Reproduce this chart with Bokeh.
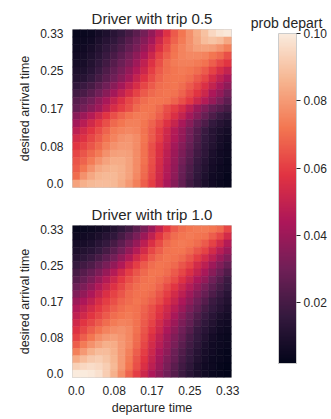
import numpy as np
from bokeh.plotting import figure
from bokeh.models import (LinearColorMapper, ColorBar, FixedTicker, Label,
                          ColumnDataSource, Range1d, PrintfTickFormatter)
from bokeh.layouts import row, column
from bokeh.transform import transform
from bokeh.embed import file_html
from bokeh.resources import INLINE

# ---------------- data ----------------
tick_idx = [0, 5, 10, 15, 20]
tick_labels = ["0.0", "0.08", "0.17", "0.25", "0.33"]
titles = ["Driver with trip 0.5", "Driver with trip 1.0"]
cbar_ticks = [0.02, 0.04, 0.06, 0.08, 0.10]

# prob depart x 1000; rows from desired arrival 0.33 (top) down to 0.0,
# columns departure time 0.0 .. 0.33
trip_05 = [
    [3, 4, 5, 7, 10, 13, 16, 20, 25, 31, 38, 47, 57, 66, 72, 78, 84, 89, 95, 98, 99],
    [4, 5, 6, 9, 12, 15, 19, 24, 29, 35, 42, 52, 61, 68, 73, 78, 83, 88, 90, 88, 83],
    [5, 6, 8, 11, 15, 18, 22, 27, 32, 39, 47, 56, 64, 71, 75, 78, 81, 82, 81, 78, 74],
    [6, 7, 10, 13, 17, 21, 26, 31, 37, 44, 52, 61, 67, 72, 75, 76, 76, 75, 72, 69, 64],
    [7, 8, 11, 15, 19, 24, 29, 34, 41, 49, 57, 64, 70, 73, 74, 74, 73, 71, 67, 62, 58],
    [9, 10, 13, 17, 22, 27, 32, 38, 45, 52, 60, 66, 70, 72, 73, 72, 70, 66, 61, 55, 50],
    [11, 12, 16, 20, 25, 30, 36, 42, 50, 57, 63, 68, 71, 72, 72, 70, 66, 62, 55, 49, 43],
    [15, 17, 20, 25, 30, 36, 42, 49, 55, 62, 66, 70, 71, 72, 70, 66, 62, 56, 50, 43, 37],
    [19, 21, 25, 30, 36, 42, 49, 55, 61, 66, 69, 71, 72, 71, 68, 63, 58, 52, 44, 38, 31],
    [24, 27, 31, 37, 43, 50, 56, 62, 66, 70, 72, 72, 71, 68, 64, 59, 52, 46, 39, 32, 26],
    [27, 31, 36, 41, 48, 55, 60, 64, 69, 72, 72, 69, 64, 60, 55, 48, 40, 34, 28, 24, 20],
    [36, 40, 46, 52, 58, 64, 68, 71, 73, 73, 71, 67, 62, 56, 50, 42, 35, 28, 22, 17, 14],
    [42, 47, 53, 59, 64, 69, 72, 74, 74, 72, 68, 63, 57, 51, 43, 36, 28, 22, 16, 12, 10],
    [48, 53, 58, 63, 68, 73, 75, 76, 75, 71, 66, 60, 53, 46, 39, 31, 24, 17, 12, 9, 7],
    [54, 57, 62, 66, 71, 75, 78, 79, 77, 72, 66, 60, 52, 45, 38, 30, 23, 16, 12, 8, 6],
    [58, 61, 65, 69, 74, 78, 80, 80, 77, 71, 64, 57, 50, 42, 35, 28, 21, 15, 11, 7, 5],
    [62, 65, 69, 73, 78, 81, 82, 81, 77, 71, 64, 56, 48, 40, 33, 26, 19, 14, 9, 6, 5],
    [65, 68, 73, 78, 82, 84, 84, 82, 77, 71, 64, 55, 47, 39, 31, 24, 17, 12, 8, 6, 4],
    [67, 72, 78, 83, 85, 86, 85, 82, 77, 70, 63, 54, 46, 38, 29, 22, 16, 11, 7, 5, 4],
    [70, 78, 83, 86, 87, 87, 85, 82, 76, 69, 62, 53, 45, 37, 28, 21, 15, 10, 6, 5, 3],
    [82, 85, 87, 88, 88, 87, 84, 80, 74, 67, 60, 52, 43, 35, 27, 19, 14, 9, 6, 4, 3],
]

trip_10 = [
    [3, 4, 5, 6, 8, 11, 15, 19, 25, 32, 40, 50, 59, 66, 70, 72, 73, 73, 72, 69, 62],
    [5, 6, 7, 9, 12, 15, 20, 26, 32, 40, 49, 58, 65, 70, 72, 73, 72, 71, 67, 62, 54],
    [7, 8, 10, 13, 16, 20, 26, 32, 39, 48, 56, 63, 69, 72, 73, 72, 70, 66, 61, 54, 46],
    [9, 11, 13, 16, 20, 25, 31, 38, 46, 54, 62, 67, 71, 72, 72, 69, 65, 61, 54, 47, 40],
    [12, 14, 17, 21, 26, 31, 38, 45, 53, 60, 66, 70, 72, 71, 69, 65, 60, 54, 48, 40, 34],
    [16, 19, 22, 27, 32, 38, 45, 53, 60, 66, 70, 72, 71, 69, 65, 61, 54, 48, 41, 34, 28],
    [20, 24, 28, 33, 39, 46, 53, 60, 65, 69, 72, 72, 70, 66, 62, 56, 50, 43, 36, 29, 23],
    [24, 28, 33, 39, 46, 52, 59, 64, 68, 71, 72, 70, 67, 63, 57, 51, 44, 38, 30, 24, 18],
    [29, 33, 38, 45, 51, 57, 62, 67, 70, 72, 71, 68, 63, 58, 52, 46, 39, 32, 26, 20, 16],
    [34, 38, 44, 50, 56, 61, 65, 69, 71, 71, 69, 65, 60, 54, 48, 41, 34, 28, 22, 17, 13],
    [40, 44, 49, 55, 60, 64, 68, 70, 72, 70, 67, 63, 57, 51, 44, 37, 30, 24, 18, 14, 11],
    [45, 49, 54, 59, 63, 67, 70, 72, 71, 68, 64, 59, 53, 47, 40, 33, 27, 20, 16, 12, 9],
    [49, 53, 58, 62, 66, 70, 72, 73, 71, 67, 63, 57, 51, 43, 36, 29, 23, 17, 13, 9, 7],
    [53, 58, 62, 66, 70, 73, 75, 74, 71, 66, 61, 54, 47, 40, 33, 27, 20, 15, 11, 7, 6],
    [57, 62, 67, 71, 75, 77, 78, 76, 71, 65, 59, 52, 44, 37, 30, 24, 17, 13, 9, 6, 5],
    [61, 67, 72, 77, 80, 81, 79, 76, 70, 64, 56, 49, 41, 34, 28, 21, 16, 11, 7, 5, 4],
    [67, 73, 78, 82, 85, 84, 80, 76, 69, 62, 54, 47, 39, 32, 25, 19, 14, 9, 6, 5, 4],
    [74, 80, 85, 88, 88, 85, 80, 74, 67, 60, 52, 44, 37, 29, 23, 17, 12, 8, 6, 4, 3],
    [84, 88, 91, 92, 90, 86, 80, 73, 65, 58, 50, 42, 34, 28, 21, 16, 11, 7, 5, 4, 3],
    [93, 95, 96, 95, 92, 87, 80, 72, 64, 56, 48, 40, 32, 25, 19, 14, 9, 6, 5, 3, 2],
    [100, 100, 99, 97, 92, 85, 77, 68, 60, 52, 44, 37, 30, 24, 18, 13, 9, 6, 4, 3, 2],
]

# ---------------- style ----------------
FONT = "Liberation Sans"
TXT = "#262626"
rocket_anchors = ["#03051A", "#35193E", "#701F57", "#AD1759",
                  "#E13342", "#F37651", "#F6B48F", "#FAEBDD"]


def make_palette(anchors, n=256):
    rgb = np.array([[int(h[i:i + 2], 16) for i in (1, 3, 5)] for h in anchors], float)
    pos = np.linspace(0, 1, len(anchors))
    out = []
    for t in np.linspace(0, 1, n):
        c = [int(round(np.interp(t, pos, rgb[:, j]))) for j in range(3)]
        out.append("#%02x%02x%02x" % tuple(c))
    return out


palette = make_palette(rocket_anchors)
all_vals = [v / 1000 for d in (trip_05, trip_10) for r in d for v in r]
mapper = LinearColorMapper(palette=palette, low=min(all_vals), high=max(all_vals))


def heat(data, title, show_x, top, bottom):
    n = len(data)
    xs, ys, vs = [], [], []
    for i, rv in enumerate(data):
        for j, v in enumerate(rv):
            xs.append(j)
            ys.append(n - 1 - i)
            vs.append(v / 1000)
    src = ColumnDataSource(dict(x=xs, y=ys, v=vs))
    p = figure(width=72 + 159 + 10, height=top + 158 + bottom,
               x_range=Range1d(-0.5, n - 0.5), y_range=Range1d(-0.5, n - 0.5),
               output_backend="svg", toolbar_location=None, title=title,
               min_border_left=72, min_border_right=10,
               min_border_top=top, min_border_bottom=bottom)
    p.rect("x", "y", 1, 1, source=src,
           fill_color=transform("v", mapper),
           line_color=transform("v", mapper), line_width=0.6)
    p.grid.visible = False
    p.outline_line_color = "#cccccc"
    p.title.align = "center"
    p.title.text_font = FONT
    p.title.text_font_size = "15px"
    p.title.text_font_style = "normal"
    p.title.text_color = TXT
    p.title.standoff = 5
    for ax in (p.xaxis[0], p.yaxis[0]):
        ax.ticker = FixedTicker(ticks=tick_idx)
        ax.major_label_overrides = {t: lab for t, lab in zip(tick_idx, tick_labels)}
        ax.axis_line_color = None
        ax.major_tick_line_color = None
        ax.minor_tick_line_color = None
        ax.major_tick_out = 0
        ax.major_tick_in = 0
        ax.major_label_text_font = FONT
        ax.major_label_text_font_size = "12px"
        ax.major_label_text_color = TXT
        ax.axis_label_text_font = FONT
        ax.axis_label_text_font_size = "12.5px"
        ax.axis_label_text_font_style = "normal"
        ax.axis_label_text_color = TXT
    p.yaxis.axis_label = "desired arrival time"
    p.yaxis.major_label_standoff = 9
    p.yaxis.axis_label_standoff = 5
    if show_x:
        p.xaxis.axis_label = "departure time"
        p.xaxis.major_label_standoff = 8
        p.xaxis.axis_label_standoff = 3
    else:
        p.xaxis.visible = False
    return p


p1 = heat(trip_05, titles[0], False, 29, 14)
p2 = heat(trip_10, titles[1], True, 21, 37)

pc = figure(width=89, height=417, x_range=Range1d(0, 1), y_range=Range1d(0, 1),
            output_backend="svg", toolbar_location=None,
            min_border_left=0, min_border_right=0, min_border_top=0, min_border_bottom=0,
            x_axis_location=None, y_axis_location=None)
pc.outline_line_color = None
pc.grid.visible = False

cb = ColorBar(color_mapper=mapper, location=(37, 54), width=18, height=330,
              padding=0, ticker=FixedTicker(ticks=cbar_ticks),
              formatter=PrintfTickFormatter(format="%.2f"),
              major_label_text_font=FONT, major_label_text_font_size="12px",
              major_label_text_color=TXT, label_standoff=3,
              major_tick_out=4, major_tick_in=0, major_tick_line_color=TXT,
              minor_tick_line_color=None, bar_line_color="#cccccc",
              border_line_color=None, background_fill_color=None)
pc.add_layout(cb, "center")
pc.add_layout(Label(x=45, y=395, x_units="screen", y_units="screen", text="prob depart",
                    text_align="center", text_baseline="alphabetic",
                    text_font=FONT, text_font_size="14px", text_color=TXT))

layout = row(column(p1, p2), pc)
open("out.html", "w").write(file_html(layout, INLINE))
